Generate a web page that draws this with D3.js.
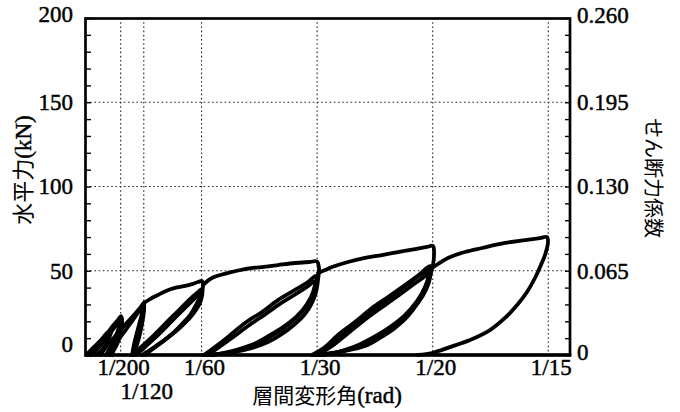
<!DOCTYPE html>
<html>
<head>
<meta charset="utf-8">
<script src="https://cdn.jsdelivr.net/npm/d3@7"></script>
<style>
  body { margin: 0; background: #fff; }
  svg { display: block; }
</style>
</head>
<body>
<svg id="chart" width="680" height="412"></svg>
<script>
// Reference drift angles (rad) marked by dotted lines, with their labels
const driftTicks  = [1/200, 1/120, 1/60, 1/30, 1/20, 1/15];
const driftLabels = ["1/200", "1/120", "1/60", "1/30", "1/20", "1/15"];
// Left axis: horizontal force (kN); right axis: shear force coefficient
const forceTicks = [0, 50, 100, 150, 200];
const coefTicks  = [0, 0.065, 0.130, 0.195, 0.260];

// Hysteresis loops, each point = [story drift angle (rad), horizontal force (kN)]
// 1/200 - 1/120 cycles
const loop1a = [[0,0],[0.00101,4.2],[0.00202,8.3],[0.00303,13.1],[0.00361,14.8],[0.00346,11.3],[0.00288,6.5],[0.00216,2.4],[0.00144,0]];
const loop1b = [[0.00029,0],[0.00144,4.7],[0.00260,10.1],[0.00375,16.6],[0.00461,20.8],[0.00505,23.1],[0.00519,19.6],[0.00505,13.6],[0.00461,7.7],[0.00404,3.0],[0.00346,0]];
const loop1c = [[0.00087,0],[0.00202,5.3],[0.00317,11.3],[0.00418,17.2],[0.00505,22.0],[0.00476,16.6],[0.00418,10.1],[0.00346,4.2],[0.00288,0]];
const loop1f = [[0.00058,0],[0.00202,5.9],[0.00346,13.1],[0.00461,19.0],[0.00519,22.0],[0.00505,17.2],[0.00461,10.7],[0.00404,4.7],[0.00375,0]];
const loop1d = [[0.00202,0],[0.00375,8.9],[0.00548,17.2],[0.00692,23.7],[0.00779,27.9],[0.00836,30.9],[0.00836,26.1],[0.00808,18.4],[0.00764,10.1],[0.00721,4.2],[0.00692,0]];
const loop1e = [[0.00288,0],[0.00404,5.3],[0.00519,11.9],[0.00635,18.4],[0.00735,24.3],[0.00822,29.1],[0.00808,24.9],[0.00764,17.8],[0.00707,8.9],[0.00663,0]];
// 1/60 cycles
const loop2a = [[0.00836,30.9],[0.00923,33.2],[0.01038,35.6],[0.01154,38.0],[0.01283,39.8],[0.01413,40.9],[0.01529,42.1],[0.01615,43.3],[0.01673,43.9],[0.01687,40.4],[0.01658,35.6],[0.01586,29.7],[0.01500,23.7],[0.01384,18.4],[0.01240,12.5],[0.01096,7.7],[0.00952,3.6],[0.00822,0]];
const loop2b = [[0.00663,0],[0.00779,4.2],[0.00923,9.5],[0.01067,15.4],[0.01211,21.4],[0.01356,27.3],[0.01500,33.2],[0.01601,36.8],[0.01673,39.2],[0.01673,35.0],[0.01630,29.7],[0.01543,24.3],[0.01428,19.0],[0.01283,13.6],[0.01110,8.3],[0.00952,3.6],[0.00808,0]];
const loop2c = [[0.00721,0],[0.00851,4.7],[0.00995,10.1],[0.01139,16.0],[0.01283,22.0],[0.01428,27.9],[0.01572,33.8],[0.01658,37.4],[0.01644,32.6],[0.01572,26.7],[0.01457,20.8],[0.01312,14.8],[0.01139,8.9],[0.00981,4.2],[0.00851,0]];
// 1/30 cycles
const loop3a = [[0.01687,41.5],[0.01817,45.7],[0.02048,48.7],[0.02293,51.0],[0.02538,52.2],[0.02769,53.4],[0.03014,54.6],[0.03230,55.2],[0.03331,55.5],[0.03360,51.6],[0.03346,44.5],[0.03317,37.4],[0.03259,30.9],[0.03158,24.3],[0.03014,18.4],[0.02827,12.5],[0.02625,7.7],[0.02394,4.2],[0.02149,1.8],[0.01904,0.6],[0.01687,0]];
const loop3b = [[0.01702,0],[0.01860,4.7],[0.02048,10.7],[0.02293,19.0],[0.02538,25.5],[0.02769,32.6],[0.03014,38.6],[0.03201,43.3],[0.03317,46.9],[0.03317,41.5],[0.03274,35.6],[0.03173,28.5],[0.03028,22.0],[0.02855,16.0],[0.02653,10.7],[0.02437,5.9],[0.02192,2.4],[0.01932,0.6],[0.01788,0]];
const loop3c = [[0.01745,0],[0.01904,4.2],[0.02105,10.1],[0.02336,17.2],[0.02567,23.7],[0.02798,30.3],[0.03028,36.2],[0.03201,40.9],[0.03302,43.9],[0.03274,37.4],[0.03187,30.3],[0.03057,23.7],[0.02884,17.8],[0.02682,12.5],[0.02452,7.1],[0.02221,3.6],[0.01990,1.2],[0.01831,0]];
// 1/20 cycles
const loop4a = [[0.03346,48.7],[0.03447,50.4],[0.03548,52.2],[0.03778,55.2],[0.04023,57.6],[0.04269,59.3],[0.04499,61.1],[0.04745,62.9],[0.04918,64.1],[0.05004,64.7],[0.05019,59.3],[0.05004,53.4],[0.04961,46.9],[0.04889,39.8],[0.04788,31.5],[0.04644,23.1],[0.04456,16.0],[0.04240,10.1],[0.04023,5.3],[0.03735,2.4],[0.03447,0.6],[0.03274,0]];
const loop4b = [[0.03259,0],[0.03447,4.7],[0.03634,11.9],[0.03879,19.6],[0.04124,27.9],[0.04355,34.4],[0.04600,41.5],[0.04817,48.1],[0.04961,52.8],[0.04961,45.7],[0.04903,38.6],[0.04788,30.9],[0.04615,22.6],[0.04413,16.0],[0.04197,10.1],[0.03951,5.3],[0.03663,1.8],[0.03375,0]];
const loop4c = [[0.03302,0],[0.03490,5.3],[0.03692,12.5],[0.03923,20.2],[0.04168,27.9],[0.04413,35.0],[0.04644,42.1],[0.04845,48.1],[0.04961,51.0],[0.04932,43.3],[0.04845,35.0],[0.04701,26.7],[0.04528,19.6],[0.04312,13.1],[0.04067,7.7],[0.03807,3.6],[0.03519,0.6],[0.03346,0]];
const loop4d = [[0.03346,0],[0.03548,5.3],[0.03749,11.9],[0.03980,19.6],[0.04211,26.7],[0.04456,33.8],[0.04672,40.4],[0.04874,46.3],[0.04946,48.7],[0.04889,40.4],[0.04773,32.0],[0.04600,23.7],[0.04384,16.6],[0.04153,10.7],[0.03894,5.3],[0.03634,1.8],[0.03403,0]];
// 1/15 cycle
const loop5a = [[0.04990,51.6],[0.05076,54.0],[0.05220,57.6],[0.05466,61.1],[0.05711,63.5],[0.06042,66.5],[0.06331,68.2],[0.06547,69.4],[0.06648,70.0],[0.06662,66.5],[0.06619,59.3],[0.06561,53.4],[0.06475,45.7],[0.06360,37.4],[0.06230,30.3],[0.06042,22.0],[0.05826,14.8],[0.05538,8.9],[0.05249,4.7],[0.04990,1.2],[0.04788,0]];

const loops = [loop1a, loop1b, loop1c, loop1f, loop1d, loop1e, loop2a, loop2b, loop2c,
               loop3a, loop3b, loop3c, loop4a, loop4b, loop4c, loop4d, loop5a];

const SERIF = "'Liberation Serif','Times New Roman',serif";
const JP = "'Noto Sans CJK JP','Noto Sans',sans-serif";

const svg = d3.select("#chart");
const plot = { left: 86, right: 570, top: 18, bottom: 355 };

const x  = d3.scaleLinear().domain([0, 0.0698]).range([plot.left, plot.right]);
const y  = d3.scaleLinear().domain([0, 200]).range([plot.bottom, plot.top]);
const yR = d3.scaleLinear().domain([0, 0.26]).range([plot.bottom, plot.top]);

// dotted reference grid
const grid = svg.append("g")
  .attr("stroke", "#222").attr("stroke-width", 1.1)
  .attr("stroke-dasharray", "1.6,2.6").attr("fill", "none");
grid.selectAll("line.v").data(driftTicks).join("line").attr("class", "v")
  .attr("x1", d => x(d)).attr("x2", d => x(d))
  .attr("y1", plot.top).attr("y2", plot.bottom);
grid.selectAll("line.h").data(forceTicks.filter(d => d > 0 && d < 200)).join("line").attr("class", "h")
  .attr("x1", plot.left).attr("x2", plot.right)
  .attr("y1", d => y(d)).attr("y2", d => y(d));

// hysteresis curves
const line = d3.line()
  .x(d => x(d[0])).y(d => y(d[1]))
  .curve(d3.curveCatmullRom.alpha(0.5));
svg.append("g").selectAll("path").data(loops).join("path")
  .attr("d", line)
  .attr("fill", "none").attr("stroke", "#000")
  .attr("stroke-width", 3.8)
  .attr("stroke-linejoin", "round").attr("stroke-linecap", "round");

// thicken serif numerals slightly, like a heavy print
function inked(sel) {
  sel.attr("font-family", SERIF).attr("font-size", 23).attr("fill", "#000")
    .attr("stroke", "#000").attr("stroke-width", 0.45);
}

// left axis (kN), minor ticks every 10 kN pointing inward
const axL = svg.append("g").attr("transform", `translate(${plot.left},0)`)
  .call(d3.axisLeft(y).tickValues(d3.range(0, 201, 10)).tickSize(-5).tickPadding(13)
    .tickFormat(d => forceTicks.includes(d) ? d : ""));
axL.select(".domain").remove();
axL.selectAll("line").attr("stroke", "#000").attr("stroke-width", 1.4);
axL.selectAll("text").call(inked)
  .attr("dy", d => d === 0 ? "-0.16em" : d === 200 ? "0.17em" : "0.32em");

// right axis (shear force coefficient)
const coefStep = coefTicks[1] / 5;
const axR = svg.append("g").attr("transform", `translate(${plot.right},0)`)
  .call(d3.axisRight(yR).tickValues(d3.range(0, 21).map(i => i * coefStep)).tickSize(-5).tickPadding(7)
    .tickFormat((d, i) => i % 5 === 0 ? (coefTicks[i / 5] === 0 ? "0" : d3.format(".3f")(coefTicks[i / 5])) : ""));
axR.select(".domain").remove();
axR.selectAll("line").attr("stroke", "#000").attr("stroke-width", 1.4);
axR.selectAll("text").call(inked)
  .attr("dy", (d, i) => (i === 0 || i === 20) ? "0.21em" : "0.32em");

// frame
svg.append("rect")
  .attr("x", plot.left - 0.5).attr("y", plot.top + 0.5)
  .attr("width", plot.right - plot.left + 0.5).attr("height", plot.bottom - plot.top - 0.5)
  .attr("fill", "none").attr("stroke", "#000").attr("stroke-width", 2.7);
svg.append("line")
  .attr("x1", plot.left - 1.5).attr("x2", plot.right + 1.3)
  .attr("y1", plot.bottom).attr("y2", plot.bottom)
  .attr("stroke", "#000").attr("stroke-width", 3.3);

// drift labels; crowded labels drop to a second row
let lastX = -Infinity;
const xLabels = svg.append("g").attr("text-anchor", "middle");
driftTicks.forEach((v, i) => {
  const px = x(v);
  const second = px - lastX < 40;
  if (!second) lastX = px;
  xLabels.append("text")
    .attr("x", px + 3).attr("y", second ? 399 : 375)
    .call(inked)
    .text(driftLabels[i]);
});

// axis titles
const xt = svg.append("text").attr("x", 327).attr("y", 403).attr("text-anchor", "middle").attr("fill", "#000");
xt.append("tspan").attr("font-family", JP).attr("font-size", 21).text("層間変形角");
xt.append("tspan").attr("font-family", SERIF).attr("font-size", 23)
  .attr("stroke", "#000").attr("stroke-width", 0.45).text("(rad)");

const yt = svg.append("text").attr("transform", "translate(31,170) rotate(-90)")
  .attr("text-anchor", "middle").attr("fill", "#000");
yt.append("tspan").attr("font-family", JP).attr("font-size", 22).text("水平力");
yt.append("tspan").attr("font-family", SERIF).attr("font-size", 23)
  .attr("stroke", "#000").attr("stroke-width", 0.45).text("(kN)");

svg.append("text").attr("transform", "translate(646,178) rotate(90)")
  .attr("text-anchor", "middle").attr("fill", "#000")
  .attr("font-family", JP).attr("font-size", 20)
  .text("せん断力係数");
</script>
</body>
</html>
